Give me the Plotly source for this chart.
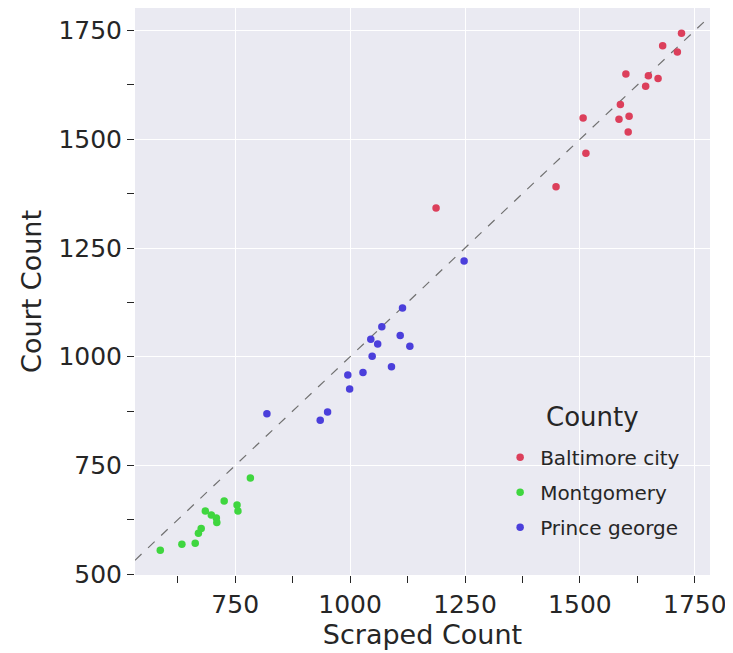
import plotly.graph_objects as go

# Data
balt_x = [1721, 1680, 1712, 1600, 1649, 1670, 1643, 1588, 1507, 1585, 1607, 1605, 1513, 1448, 1187]
balt_y = [1744, 1715, 1701, 1650, 1646, 1640, 1622, 1580, 1549, 1546, 1553, 1517, 1468, 1391, 1342]

mont_x = [783, 726, 754, 756, 685, 698, 709, 710, 676, 670, 663, 634, 587]
mont_y = [721, 668, 659, 645, 645, 636, 629, 619, 605, 594, 571, 569, 555]

pg_x = [1114, 1069, 1045, 1109, 1060, 1130, 1048, 1090, 1028, 995, 999, 819, 951, 935, 1248]
pg_y = [1112, 1069, 1040, 1049, 1029, 1024, 1001, 977, 964, 958, 926, 869, 873, 854, 1220]

series_names = ["Baltimore city", "Montgomery", "Prince george"]
series_colors = ["#dc3f5b", "#3fd63f", "#4b3fdb"]
legend_title = "County"

x_range = [532, 1783]
y_range = [498, 1802]
tick_vals = [500, 750, 1000, 1250, 1500, 1750]

TEXT = "#262626"
FONT = "DejaVu Sans"

fig = go.Figure()

# identity reference line across the axis extent
lo = max(x_range[0], y_range[0])
hi = min(x_range[1], y_range[1])
fig.add_trace(go.Scatter(x=[lo, hi], y=[lo, hi], mode="lines",
                         line=dict(color="#707070", width=1.2, dash="dash"),
                         showlegend=False, hoverinfo="skip"))

for name, xs, ys, col in zip(series_names, [balt_x, mont_x, pg_x], [balt_y, mont_y, pg_y], series_colors):
    fig.add_trace(go.Scatter(x=xs, y=ys, mode="markers", name=name, legendgroup=name,
                             marker=dict(color=col, size=7.5, line=dict(width=0))))

axis_common = dict(
    showgrid=True, gridcolor="white", gridwidth=1.2,
    zeroline=False, showline=False,
    ticks="outside", ticklen=7, tickwidth=1.2, tickcolor=TEXT,
    tickfont=dict(family=FONT, size=25, color=TEXT),
    tickvals=tick_vals,
    minor=dict(ticks="outside", dtick=125, tick0=500, ticklen=7, tickwidth=1.2,
               tickcolor=TEXT, showgrid=False),
)

# The page body adds an 8px offset; size the figure so the plot sits where the reference has it
fig.update_layout(
    width=725, height=645,
    margin=dict(l=127, r=23, t=0, b=78, autoexpand=False),
    paper_bgcolor="white", plot_bgcolor="#EAEAF2",
    font=dict(family=FONT, color=TEXT),
    xaxis=dict(range=x_range, title=dict(text="Scraped Count", font=dict(family=FONT, size=27, color=TEXT), standoff=2), **axis_common),
    yaxis=dict(range=y_range, title=dict(text="Court Count", font=dict(family=FONT, size=27, color=TEXT), standoff=8), **axis_common),
    legend=dict(
        x=0.635, y=0.242, xanchor="left", yanchor="top",
        bgcolor="rgba(0,0,0,0)", borderwidth=0,
        font=dict(family=FONT, size=20, color=TEXT),
        itemsizing="trace", tracegroupgap=6,
    ),
    annotations=[dict(text=legend_title, x=0.795, y=0.279, xref="paper", yref="paper",
                      xanchor="center", yanchor="middle", showarrow=False,
                      font=dict(family=FONT, size=26, color=TEXT))],
)

fig.write_html("out.html")
